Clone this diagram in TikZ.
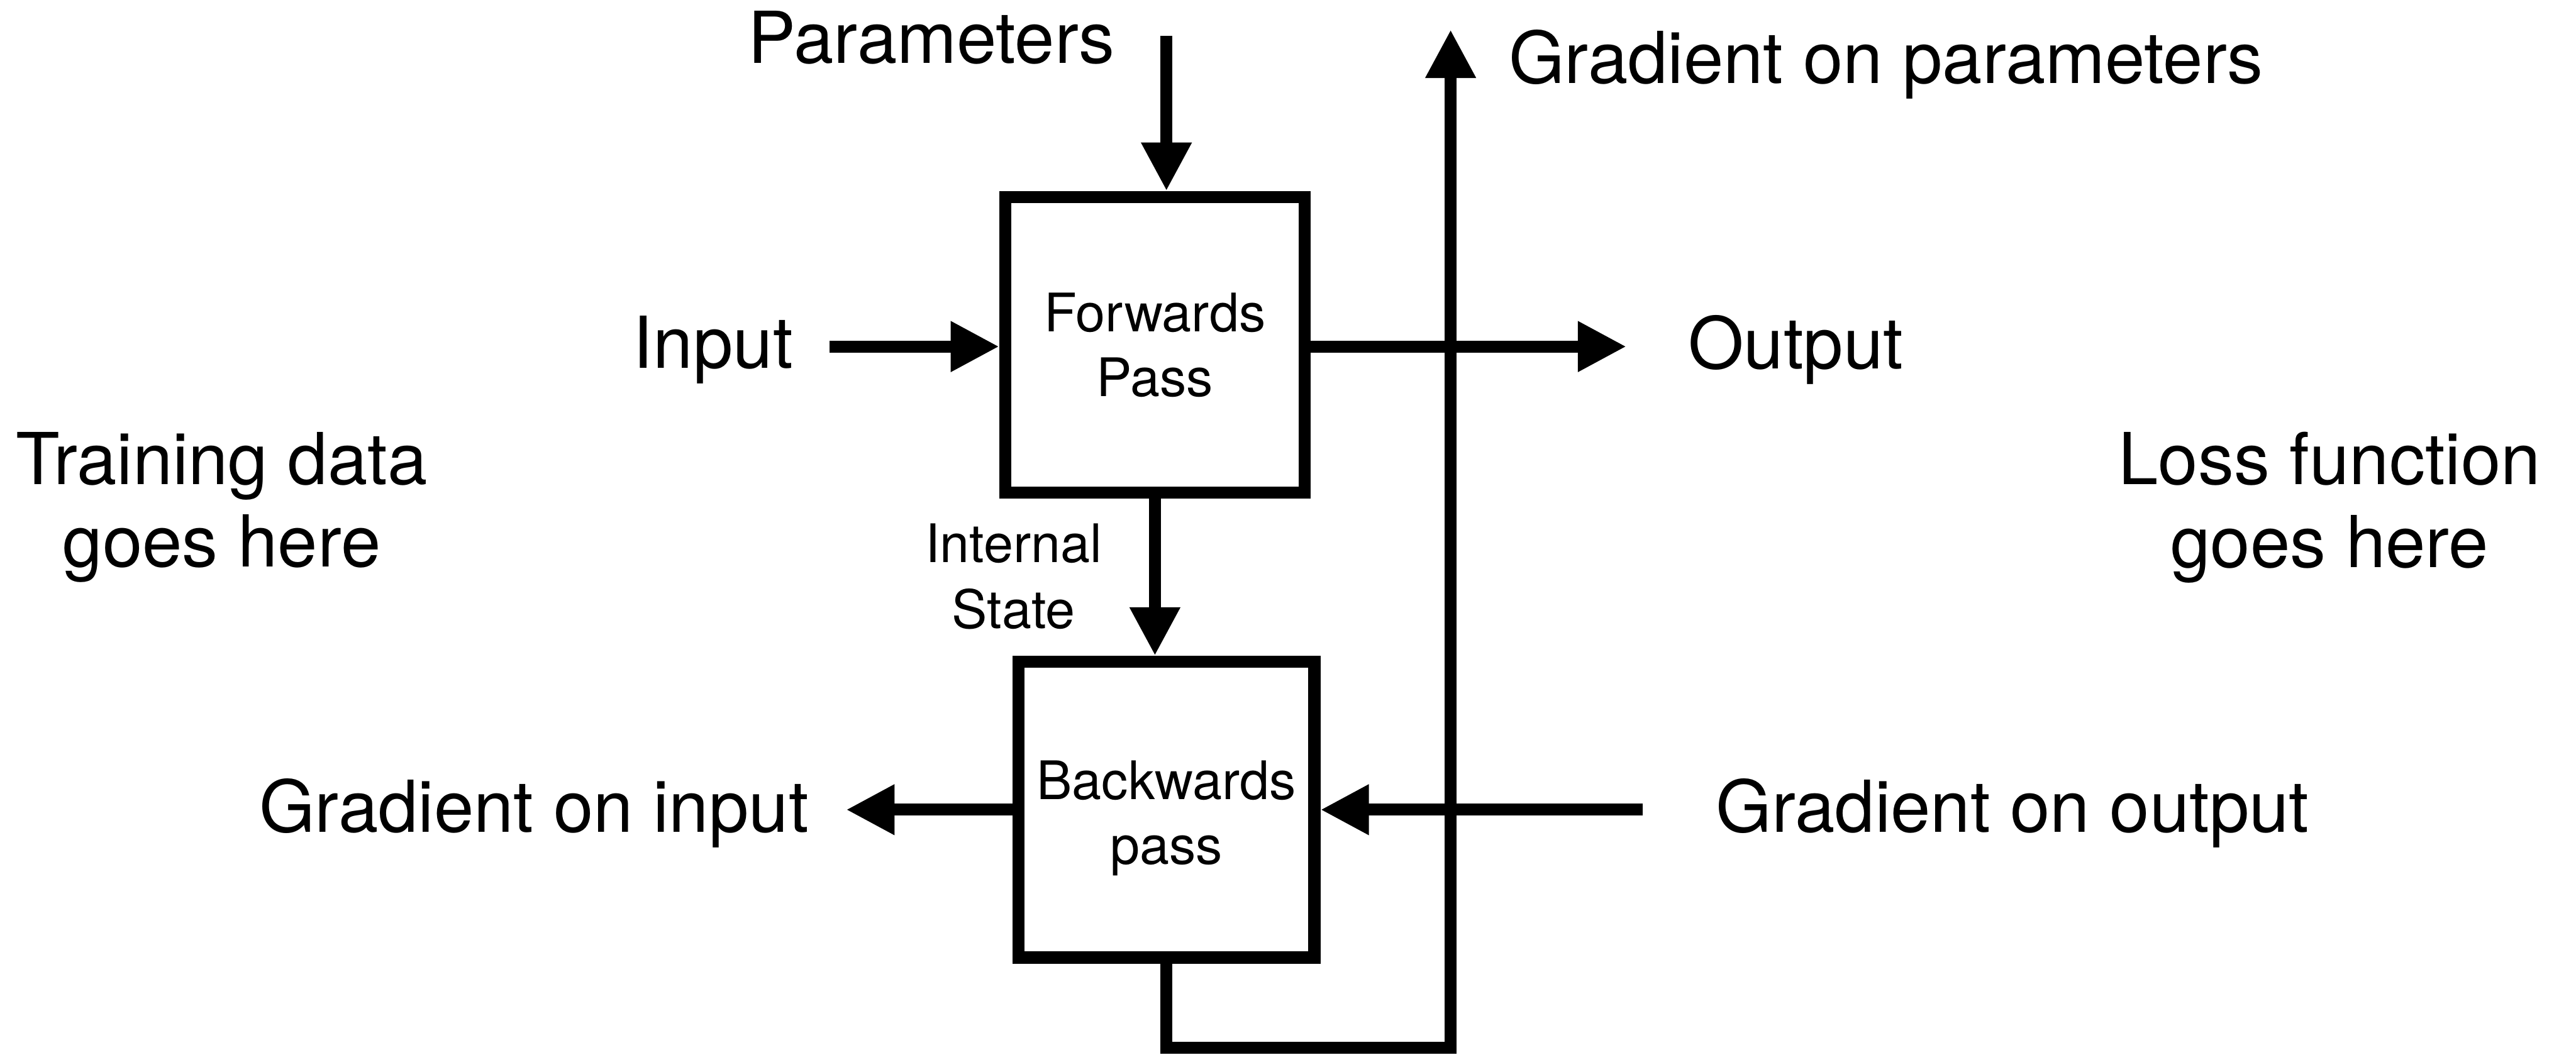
\documentclass[tikz,border=0pt]{standalone}
\usepackage{fontspec}
\setmainfont{TeX Gyre Heros}
\usetikzlibrary{arrows.meta}
\begin{document}
\begin{tikzpicture}[x=0.01cm,y=-0.01cm,
  line width=2.1pt,
  tip/.style={-{Triangle[length=8.4pt,width=8.2pt]}},
  passbox/.style={draw,rectangle,minimum width=1.82cm,minimum height=1.80cm,inner sep=0pt,
    align=center,font=\fontsize{9.2pt}{11.2pt}\selectfont},
  passtext/.style={inner sep=0pt,align=center,font=\fontsize{9.2pt}{11.2pt}\selectfont},
  biglabel/.style={inner sep=0pt,align=center,font=\fontsize{12.4pt}{14.3pt}\selectfont},
  smalllabel/.style={inner sep=0pt,align=center,font=\fontsize{9.2pt}{11.4pt}\selectfont}]
\useasboundingbox (0,0) rectangle (1568,642);

% the two passes
\node[passbox] (fwd) at (703,210) {Forwards\\Pass};
\node[passbox,minimum width=1.80cm] (bwd) at (710,493) {};
\node[passtext] (bwdtext) at ([yshift=-1.5pt]bwd.center) {Backwards\\pass};

% labels
\node[biglabel] (params) at (567,23) {Parameters};
\node[biglabel] (gparams) at (1148,39) {Gradient on parameters};
\node[biglabel] (input) at (434,213) {Input};
\node[biglabel] (output) at (1093,213) {Output};
\node[biglabel] (train) at (135,309) {Training data\\goes here};
\node[biglabel] (loss) at (1418,309) {Loss function\\goes here};
\node[biglabel] (gout) at (1225,495) {Gradient on output};
\node[biglabel] (gin) at (325,495) {Gradient on input};
\node[smalllabel] (state) at (617,351) {Internal\\State};

% connector end points
\coordinate (ptop) at (710,22);
\coordinate (inL) at (505,211);
\coordinate (outR) at (990,211);
\coordinate (goutR) at (1000,493);
\coordinate (ginL) at (515,493);
\coordinate (loopL) at (710,638);
\coordinate (loopR) at (883,638);
\coordinate (gtop) at (883,18);

% forward connections
\draw[tip] (ptop) -- (ptop |- fwd.north);
\draw[tip] (inL) -- (inL -| fwd.west);
\draw[tip] (fwd.east |- outR) -- (outR);
\draw[tip] (fwd.south) -- (fwd.south |- bwd.north);

% backward connections
\draw[tip] (bwd.south) -- (loopL) -- (loopR) -- (gtop);
\draw[tip] (goutR) -- (goutR -| bwd.east);
\draw[tip] (bwd.west |- ginL) -- (ginL);
\end{tikzpicture}
\end{document}
